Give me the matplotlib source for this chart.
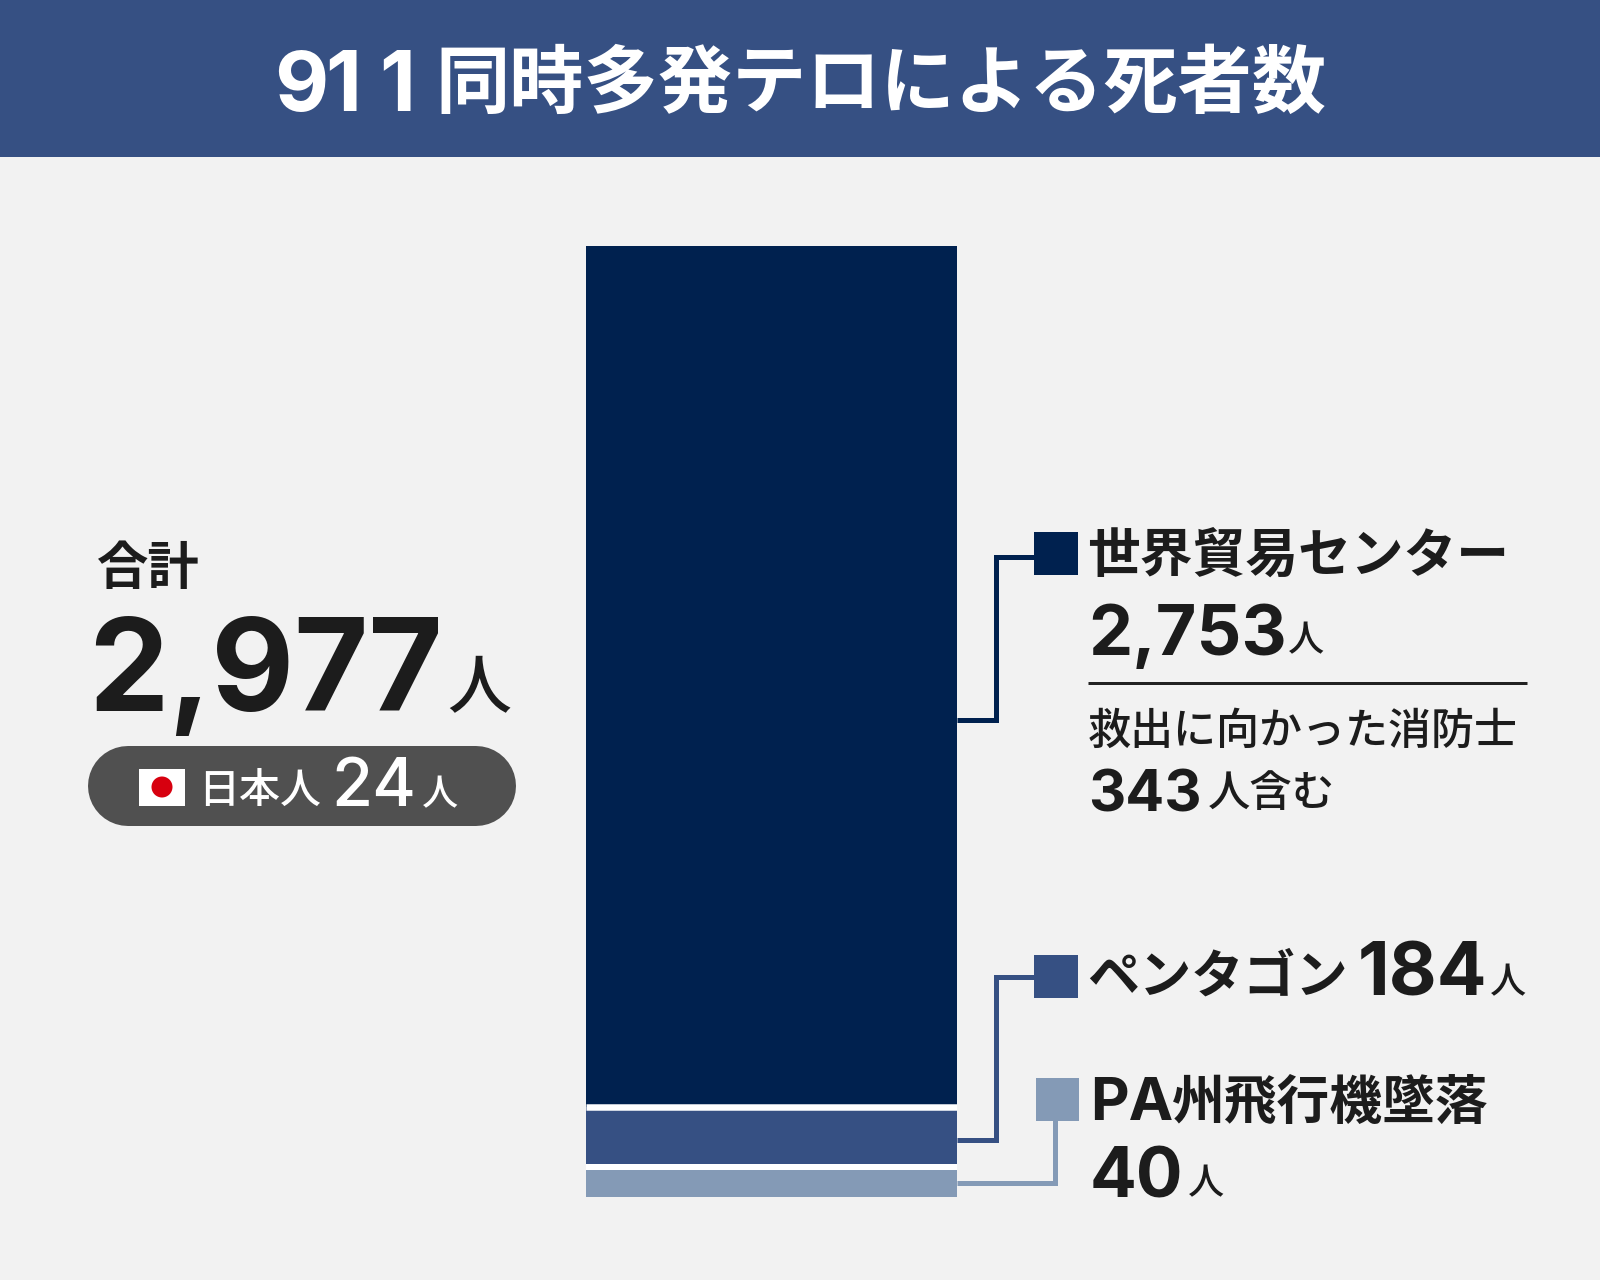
import matplotlib
matplotlib.use("Agg")
import matplotlib.pyplot as plt
from matplotlib.patches import Rectangle, Circle

# ---- data ----
title = "911同時多発テロによる死者数"
categories = ["世界貿易センター", "ペンタゴン", "PA州飛行機墜落"]
values = [2753, 184, 40]
# The segments in the source graphic are not strictly proportional (the smallest
# one is enlarged); these are the lengths, in the same units.
drawn_lengths = [2753, 193, 96]
total = 2977
japanese = 24
firefighters = 343
unit = "人"

BG = "#f2f2f2"
HEADER = "#365083"
COLORS = ["#00214f", "#365083", "#849ab6"]
INK = "#1c1c1c"
DIGIT = "Inter"
CJK = "Noto Sans CJK JP"

W, H = 1600, 1280
fig = plt.figure(figsize=(W / 100, H / 100), dpi=100, facecolor=BG)

# canvas in pixel coordinates for the annotation layer
ov = fig.add_axes([0, 0, 1, 1])
ov.set_xlim(0, W); ov.set_ylim(H, 0); ov.axis("off")

ov.add_patch(Rectangle((0, 0), W, 157, fc=HEADER, ec="none"))

# stacked bar
BX0, BX1, BY0, BY1 = 586, 957, 246, 1197
bx = fig.add_axes([BX0 / W, 1 - BY1 / H, (BX1 - BX0) / W, (BY1 - BY0) / H])
bx.axis("off")
bx.set_xlim(0, 1)
bx.set_ylim(0, sum(drawn_lengths))
bottom = 0
for length, col in zip(drawn_lengths[::-1], COLORS[::-1]):
    bx.bar(0.5, length, width=1, bottom=bottom, color=col, edgecolor="none")
    bottom += length
bx.patch.set_alpha(0)
# white separators between the segments
bx.axhline(drawn_lengths[2], color="white", lw=6 * 0.72, solid_capstyle="butt")
bx.axhline(drawn_lengths[2] + drawn_lengths[1], color="white", lw=6.5 * 0.72, solid_capstyle="butt")


def txt(x, base, s, pt, weight="bold", color=INK, fam=CJK):
    return ov.text(x, base, s, fontsize=pt, fontweight=weight, color=color, ha="left",
                   va="baseline", family=[fam], zorder=5)


def leader(pts, col):
    xs, ys = zip(*pts)
    ov.plot(xs, ys, color=col, lw=5 * 0.72, solid_joinstyle="miter", solid_capstyle="butt", zorder=3)


# title
for x0, ch in zip((274, 325, 379), title[:3]):
    txt(x0, 111, ch, 60, color="white", fam=DIGIT)
txt(435, 107, title[3:], 53.5, color="white")

# left block
txt(97, 584, "合計", 37)
txt(88, 711, f"{total:,}", 92, fam=DIGIT)
txt(447, 708, unit, 46, weight="medium")
ov.plot([128, 476], [786, 786], color="#505050", lw=80 * 0.72, solid_capstyle="round", zorder=2)
ov.add_patch(Rectangle((138.5, 769), 46.5, 37, fc="white", ec="none", zorder=3))
ov.add_patch(Circle((162, 787), 10.5, fc="#d7000f", ec="none", zorder=4))
txt(198, 803, "日本人", 29.5, weight="medium", color="white")
txt(331, 806, str(japanese), 48, weight="medium", color="white", fam=DIGIT)
txt(422, 805, unit, 26, weight="medium", color="white")

# legend markers and leaders
leader([(957, 720), (996, 720), (996, 557), (1036, 557)], COLORS[0])
leader([(957, 1140), (996, 1140), (996, 977), (1036, 977)], COLORS[1])
leader([(957, 1183), (1055, 1183), (1055, 1119)], COLORS[2])
ov.add_patch(Rectangle((1034, 532), 44, 43, fc=COLORS[0], ec="none", zorder=4))
ov.add_patch(Rectangle((1034, 955), 44, 43, fc=COLORS[1], ec="none", zorder=4))
ov.add_patch(Rectangle((1035.5, 1078), 43, 43, fc=COLORS[2], ec="none", zorder=4))

# WTC block
txt(1087, 572, categories[0], 38)
txt(1088, 655, f"{values[0]:,}", 50.5, fam=DIGIT)
txt(1288, 651, unit, 26, weight="medium")
ov.plot([1088, 1527], [683, 683], color="#222222", lw=3 * 0.72, solid_capstyle="butt")
txt(1088, 744, "救出に向かった消防士", 31, weight="medium")
txt(1088, 811, str(firefighters), 41.5, fam=DIGIT)
txt(1208, 806, unit + "含む", 30.5, weight="medium")

# Pentagon block
txt(1087, 993, categories[1], 37.5)
txt(1358, 996, str(values[1]), 53, fam=DIGIT)
txt(1490, 993, unit, 26, weight="medium")

# PA block
txt(1090, 1120, categories[2][:2], 43, fam=DIGIT)
txt(1172, 1119, categories[2][2:], 38)
txt(1090, 1197, str(values[2]), 50, fam=DIGIT)
txt(1188, 1194, unit, 26, weight="medium")

fig.savefig("out.png", dpi=100, facecolor=BG)
